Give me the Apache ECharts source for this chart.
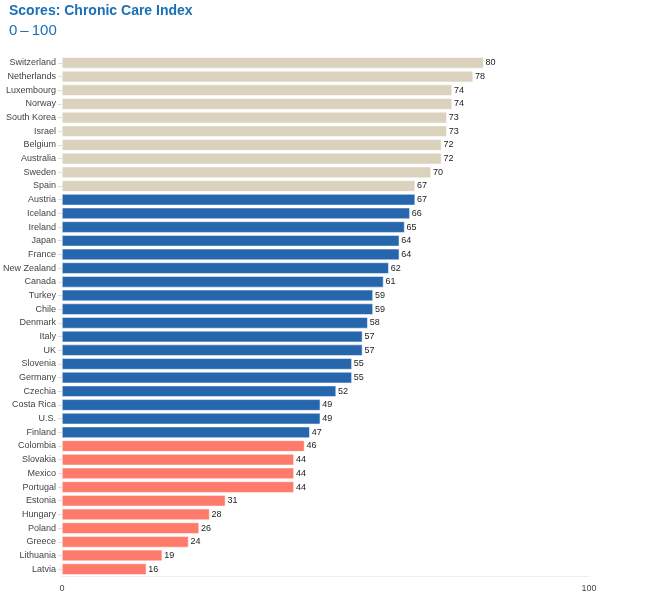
<!DOCTYPE html>
<html>
<head>
<meta charset="utf-8">
<script src="https://cdn.jsdelivr.net/npm/echarts@6/dist/echarts.min.js"></script>
<style>
	html, body { margin: 0; padding: 0; background: #fff; }
	#chart { width: 646px; height: 597px; }
</style>
</head>
<body>
<div id="chart"></div>
<script>
	const countries = ['Switzerland', 'Netherlands', 'Luxembourg', 'Norway', 'South Korea', 'Israel', 'Belgium', 'Australia', 'Sweden', 'Spain',
		'Austria', 'Iceland', 'Ireland', 'Japan', 'France', 'New Zealand', 'Canada', 'Turkey', 'Chile', 'Denmark', 'Italy', 'UK', 'Slovenia', 'Germany', 'Czechia', 'Costa Rica', 'U.S.', 'Finland',
		'Colombia', 'Slovakia', 'Mexico', 'Portugal', 'Estonia', 'Hungary', 'Poland', 'Greece', 'Lithuania', 'Latvia'];
	const scores = [80, 78, 74, 74, 73, 73, 72, 72, 70, 67,
		67, 66, 65, 64, 64, 62, 61, 59, 59, 58, 57, 57, 55, 55, 52, 49, 49, 47,
		46, 44, 44, 44, 31, 28, 26, 24, 19, 16];
	// group of each country: 0 = top, 1 = middle, 2 = bottom
	const groups = [0, 0, 0, 0, 0, 0, 0, 0, 0, 0,
		1, 1, 1, 1, 1, 1, 1, 1, 1, 1, 1, 1, 1, 1, 1, 1, 1, 1,
		2, 2, 2, 2, 2, 2, 2, 2, 2, 2];
	const groupColors = ['#dad2bd', '#2566ad', '#fe7b6c'];
	const xTicks = [0, 100];

	let chart = echarts.init(document.getElementById('chart'));
	const font = 'Liberation Sans, Arial, sans-serif';

	option = {
		backgroundColor: '#fff',
		animation: false,
		title: {
			text: 'Scores: Chronic Care Index',
			subtext: '0\u2009\u2013\u2009100',
			left: 4,
			top: -1,
			itemGap: 5,
			textStyle: { color: '#1a6fb8', fontSize: 14, fontWeight: 'bold', fontFamily: font },
			subtextStyle: { color: '#1a6fb8', fontSize: 15, fontFamily: font }
		},
		grid: { left: 62, right: 57, top: 56, bottom: 21, containLabel: false },
		xAxis: {
			type: 'value',
			min: 0,
			max: 100,
			interval: 100,
			axisLine: { show: true, lineStyle: { color: '#eeeeee' } },
			axisTick: { show: false },
			splitLine: { show: false },
			axisLabel: {
				color: '#444', fontSize: 9, fontFamily: font, margin: 8,
				formatter: v => xTicks.indexOf(v) >= 0 ? String(v) : ''
			}
		},
		yAxis: {
			type: 'category',
			inverse: true,
			data: countries,
			axisLine: { show: false },
			axisTick: { show: true, length: 4, lineStyle: { color: '#dddddd' }, alignWithLabel: true },
			axisLabel: { color: '#444', fontSize: 9, fontFamily: font, margin: 6 }
		},
		series: [{
			type: 'bar',
			barCategoryGap: '18%',
			data: scores.map((v, i) => ({
				value: v,
				itemStyle: { color: groupColors[groups[i]] }
			})),
			itemStyle: { borderColor: '#fff', borderWidth: 0.5 },
			label: {
				show: true, position: 'right', distance: 2,
				color: '#222', fontSize: 9, fontFamily: font
			}
		}]
	};

	chart.setOption(option);
</script>
</body>
</html>
